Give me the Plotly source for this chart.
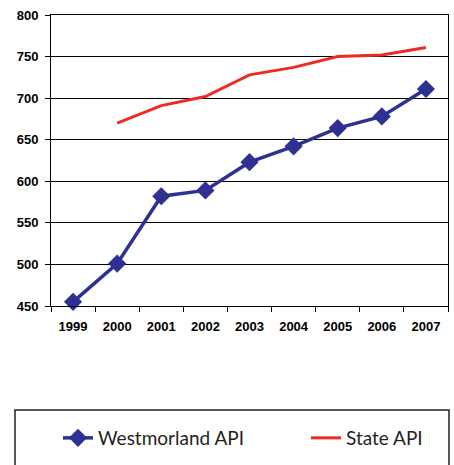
import plotly.graph_objects as go

years = ["1999", "2000", "2001", "2002", "2003", "2004", "2005", "2006", "2007"]
westmorland_api = [455, 501, 582, 589, 623, 642, 664, 678, 711]
state_years = ["2000", "2001", "2002", "2003", "2004", "2005", "2006", "2007"]
state_api = [670, 691, 702, 728, 737, 750, 752, 761]
y_ticks = [450, 500, 550, 600, 650, 700, 750, 800]

fig = go.Figure()
fig.add_trace(go.Scatter(
    x=years, y=westmorland_api, name="Westmorland API", mode="lines+markers",
    line=dict(color="#2E3192", width=3.5),
    marker=dict(symbol="diamond", size=14, color="#2E3192"),
    legend="legend", cliponaxis=False,
))
fig.add_trace(go.Scatter(
    x=state_years, y=state_api, name="State API", mode="lines",
    line=dict(color="#EE2A24", width=3),
    legend="legend2",
))

legend_font = dict(family="Lato", size=19, color="#231F20")
fig.update_layout(
    width=454, height=465,
    margin=dict(l=51, r=6, t=15, b=159, autoexpand=False),
    paper_bgcolor="white", plot_bgcolor="white",
    showlegend=True,
    legend=dict(
        xref="container", yref="container",
        x=58 / 454, xanchor="left", y=1 - 438 / 465, yanchor="middle",
        font=legend_font, bgcolor="rgba(0,0,0,0)",
    ),
    legend2=dict(
        xref="container", yref="container",
        x=306 / 454, xanchor="left", y=1 - 438 / 465, yanchor="middle",
        font=legend_font, bgcolor="rgba(0,0,0,0)",
    ),
    xaxis=dict(
        type="category", categoryorder="array", categoryarray=years,
        range=[-0.5, len(years) - 0.5],
        showline=True, linecolor="black", linewidth=1, mirror=True,
        ticks="outside", tickson="boundaries", ticklen=5, tickcolor="black",
        showgrid=False, automargin=False, ticklabelstandoff=8,
        tickfont=dict(family="Liberation Sans", size=13, color="black", weight="bold"),
    ),
    yaxis=dict(
        range=[450, 800], tickvals=y_ticks,
        showline=True, linecolor="black", linewidth=1, mirror=True,
        showgrid=True, gridcolor="black", gridwidth=1,
        ticks="outside", ticklen=5, tickcolor="black",
        ticklabelstandoff=4, automargin=False,
        tickfont=dict(family="Liberation Sans", size=13, color="black", weight="bold"),
    ),
    shapes=[dict(
        type="rect", xref="paper", yref="paper",
        x0=(15 - 51) / 397, x1=(449 - 51) / 397, y0=-0.57, y1=-(410 - 306) / 291,
        line=dict(color="#231F20", width=1.5), fillcolor="rgba(0,0,0,0)",
    )],
)

fig.write_html("out.html", config={"displayModeBar": False},
               post_script="document.body.style.margin='0';")
